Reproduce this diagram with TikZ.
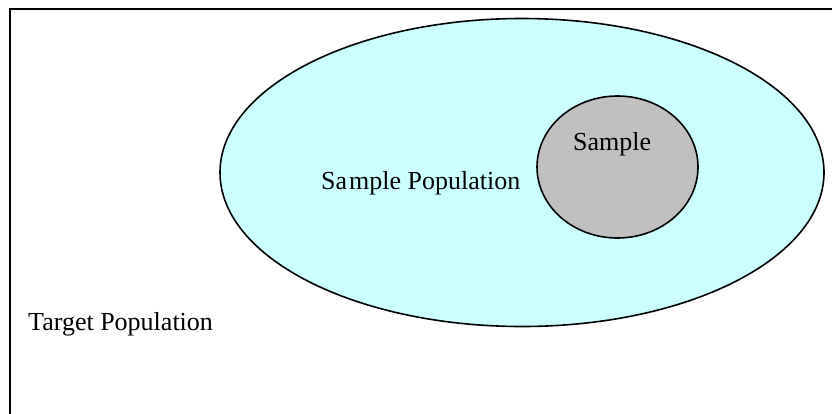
\documentclass[tikz,border=0pt]{standalone}
\usepackage{fontspec}
\usetikzlibrary{shapes.geometric}
\setmainfont{Liberation Serif}
\definecolor{popcyan}{HTML}{CCFFFF}
\definecolor{samplegrey}{HTML}{C0C0C0}
\begin{document}
\begin{tikzpicture}[x=1pt,y=-1pt,
  label/.style={font=\fontsize{26}{30}\selectfont, inner sep=0pt, anchor=base west},
  region/.style={draw=black, line width=1.6pt, ellipse, inner sep=0pt}]
\useasboundingbox (0,0) rectangle (832,413);
\begin{scope}
  \clip (0,0) rectangle (832,413);
  % target population frame (runs past the page on the right and bottom)
  \draw[line width=2pt] (9.5,8.5) rectangle (900,480);
\end{scope}
% sample population
\node[region, fill=popcyan, minimum width=604pt, minimum height=308pt] (pop) at (522,172.5) {};
% sample
\node[region, fill=samplegrey, minimum width=161pt, minimum height=142pt] (smp) at (617.5,167) {};
\node[label] (poptext) at (321,189) {Sa\kern2pt mple Population};
\node[label] (smptext) at (573,150) {Sample};
\node[label] (tgttext) at (28,330) {Target Population};
\end{tikzpicture}
\end{document}
